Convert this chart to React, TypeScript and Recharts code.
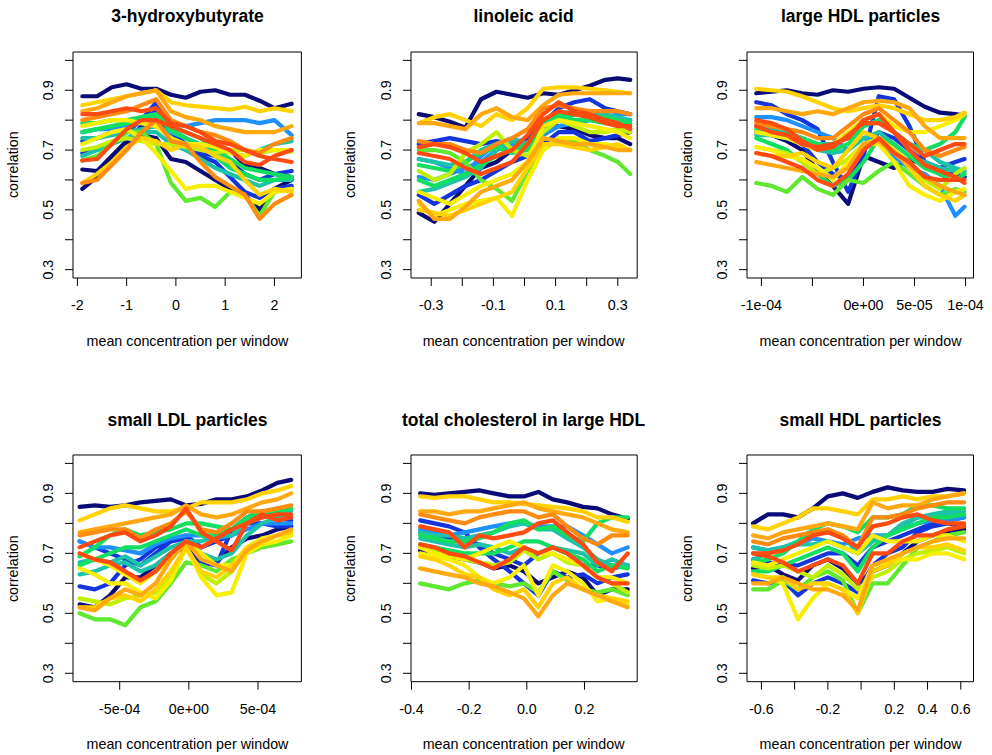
import React from 'react';
import { LineChart, Line, XAxis, YAxis, ReferenceArea } from 'recharts';

const C = {
  navy: '#0B0B78', blue: '#1535DC', dodger: '#1E90FF', teal: '#1DC3A8', spring: '#12DE62',
  lime: '#5EE830', gy: '#C0F000', yellow: '#F7EE00', gold: '#FFD200', orange: '#FFA810',
  dorange: '#FF8C10', ored: '#FF4A10',
};

const yTicks = [0.3, 0.4, 0.5, 0.6, 0.7, 0.8, 0.9, 1.0];
const yTickLabels = ['0.3', '', '0.5', '', '0.7', '', '0.9', ''];

// ---- Panel 1: 3-hydroxybutyrate
const hbX = [-1.9, -1.6, -1.3, -1.0, -0.7, -0.4, -0.1, 0.2, 0.5, 0.8, 1.1, 1.4, 1.7, 2.0, 2.35];
const hbTicks = [-2, -1, 0, 1, 2];
const hbTickLabels = ['-2', '-1', '0', '1', '2'];
const hbNavyA = [0.88, 0.88, 0.91, 0.92, 0.905, 0.905, 0.885, 0.875, 0.895, 0.9, 0.885, 0.885, 0.865, 0.84, 0.855];
const hbNavyB = [0.57, 0.61, 0.66, 0.72, 0.75, 0.74, 0.67, 0.66, 0.63, 0.6, 0.57, 0.55, 0.5, 0.57, 0.6];
const hbNavyC = [0.635, 0.63, 0.68, 0.73, 0.78, 0.8, 0.74, 0.72, 0.7, 0.69, 0.7, 0.65, 0.64, 0.62, 0.61];
const hbBlue = [0.69, 0.7, 0.72, 0.76, 0.8, 0.86, 0.77, 0.7, 0.68, 0.66, 0.61, 0.56, 0.54, 0.57, 0.58];
const hbBlueB = [0.73, 0.74, 0.76, 0.78, 0.8, 0.83, 0.76, 0.72, 0.69, 0.68, 0.66, 0.62, 0.6, 0.62, 0.63];
const hbDodger = [0.76, 0.77, 0.77, 0.78, 0.79, 0.8, 0.79, 0.78, 0.79, 0.8, 0.8, 0.8, 0.79, 0.8, 0.75];
const hbTeal = [0.74, 0.74, 0.75, 0.76, 0.77, 0.78, 0.76, 0.74, 0.72, 0.7, 0.69, 0.68, 0.7, 0.72, 0.73];
const hbTealB = [0.68, 0.7, 0.72, 0.74, 0.76, 0.76, 0.72, 0.7, 0.67, 0.64, 0.62, 0.6, 0.58, 0.6, 0.6];
const hbSpring = [0.79, 0.79, 0.8, 0.8, 0.81, 0.82, 0.78, 0.76, 0.74, 0.7, 0.67, 0.64, 0.63, 0.62, 0.61];
const hbSpringB = [0.76, 0.77, 0.78, 0.79, 0.8, 0.81, 0.77, 0.74, 0.71, 0.68, 0.64, 0.62, 0.6, 0.6, 0.61];
const hbLime = [0.665, 0.68, 0.72, 0.76, 0.76, 0.72, 0.59, 0.53, 0.54, 0.51, 0.56, 0.55, 0.48, 0.56, 0.57];
const hbGY = [0.7, 0.71, 0.73, 0.74, 0.73, 0.72, 0.72, 0.71, 0.7, 0.69, 0.7, 0.7, 0.69, 0.7, 0.695];
const hbYellow = [0.72, 0.74, 0.76, 0.77, 0.74, 0.69, 0.63, 0.57, 0.58, 0.58, 0.56, 0.54, 0.52, 0.56, 0.57];
const hbYellowB = [0.78, 0.79, 0.8, 0.8, 0.79, 0.78, 0.74, 0.72, 0.72, 0.71, 0.69, 0.68, 0.7, 0.7, 0.7];
const hbGoldA = [0.85, 0.86, 0.87, 0.88, 0.89, 0.9, 0.86, 0.85, 0.845, 0.84, 0.835, 0.845, 0.83, 0.84, 0.83];
const hbGoldB = [0.59, 0.62, 0.66, 0.71, 0.74, 0.73, 0.7, 0.72, 0.71, 0.68, 0.66, 0.6, 0.55, 0.57, 0.56];
const hbOrange = [0.83, 0.84, 0.86, 0.88, 0.89, 0.9, 0.83, 0.81, 0.8, 0.78, 0.77, 0.76, 0.76, 0.76, 0.78];
const hbDOrangeA = [0.8, 0.81, 0.82, 0.83, 0.85, 0.87, 0.8, 0.78, 0.76, 0.75, 0.73, 0.7, 0.69, 0.72, 0.74];
const hbDOrangeB = [0.59, 0.6, 0.65, 0.7, 0.76, 0.8, 0.73, 0.72, 0.66, 0.61, 0.58, 0.55, 0.47, 0.52, 0.55];
const hbRedA = [0.82, 0.82, 0.83, 0.84, 0.83, 0.84, 0.79, 0.78, 0.76, 0.73, 0.72, 0.7, 0.68, 0.67, 0.66];
const hbRedB = [0.665, 0.67, 0.72, 0.77, 0.8, 0.8, 0.78, 0.76, 0.74, 0.72, 0.7, 0.66, 0.65, 0.68, 0.7];

// ---- Panel 2: linoleic acid
const laX = [-0.34, -0.29, -0.24, -0.19, -0.14, -0.09, -0.04, 0.01, 0.06, 0.11, 0.16, 0.21, 0.26, 0.3, 0.34];
const laTicks = [-0.3, -0.2, -0.1, 0, 0.1, 0.2, 0.3];
const laTickLabels = ['-0.3', '', '-0.1', '', '0.1', '', '0.3'];
const laNavyA = [0.82, 0.81, 0.795, 0.775, 0.87, 0.895, 0.885, 0.875, 0.89, 0.885, 0.9, 0.915, 0.935, 0.94, 0.935];
const laNavyB = [0.49, 0.46, 0.52, 0.58, 0.64, 0.66, 0.7, 0.72, 0.78, 0.78, 0.77, 0.75, 0.74, 0.74, 0.72];
const laBlueA = [0.72, 0.73, 0.74, 0.73, 0.72, 0.73, 0.72, 0.74, 0.79, 0.84, 0.86, 0.87, 0.84, 0.83, 0.82];
const laBlueB = [0.55, 0.52, 0.55, 0.58, 0.6, 0.63, 0.66, 0.68, 0.72, 0.76, 0.76, 0.73, 0.74, 0.75, 0.76];
const laDodger = [0.61, 0.6, 0.62, 0.64, 0.66, 0.7, 0.72, 0.7, 0.75, 0.78, 0.79, 0.8, 0.8, 0.8, 0.8];
const laDodgerB = [0.67, 0.66, 0.64, 0.62, 0.68, 0.72, 0.7, 0.72, 0.76, 0.8, 0.82, 0.82, 0.81, 0.82, 0.82];
const laTeal = [0.56, 0.57, 0.59, 0.61, 0.64, 0.7, 0.73, 0.71, 0.78, 0.8, 0.82, 0.83, 0.82, 0.81, 0.8];
const laTealB = [0.67, 0.66, 0.65, 0.66, 0.7, 0.72, 0.74, 0.72, 0.79, 0.82, 0.83, 0.82, 0.81, 0.8, 0.8];
const laSpring = [0.65, 0.64, 0.63, 0.66, 0.69, 0.71, 0.69, 0.7, 0.78, 0.81, 0.82, 0.81, 0.81, 0.8, 0.79];
const laSpringB = [0.6, 0.58, 0.6, 0.62, 0.65, 0.68, 0.7, 0.72, 0.8, 0.82, 0.8, 0.8, 0.79, 0.79, 0.78];
const laLime = [0.7, 0.7, 0.69, 0.66, 0.6, 0.57, 0.53, 0.63, 0.7, 0.74, 0.73, 0.7, 0.68, 0.66, 0.62];
const laGY = [0.63, 0.6, 0.62, 0.69, 0.72, 0.76, 0.7, 0.68, 0.76, 0.8, 0.78, 0.76, 0.76, 0.77, 0.76];
const laYellow = [0.52, 0.48, 0.5, 0.52, 0.53, 0.54, 0.48, 0.6, 0.7, 0.74, 0.74, 0.72, 0.72, 0.71, 0.7];
const laYellowB = [0.56, 0.54, 0.52, 0.55, 0.58, 0.6, 0.62, 0.66, 0.78, 0.8, 0.79, 0.78, 0.77, 0.76, 0.74];
const laGoldA = [0.79, 0.81, 0.82, 0.8, 0.78, 0.82, 0.8, 0.84, 0.905, 0.91, 0.91, 0.905, 0.9, 0.895, 0.89];
const laGoldB = [0.5, 0.49, 0.48, 0.5, 0.52, 0.54, 0.56, 0.64, 0.72, 0.72, 0.71, 0.7, 0.71, 0.72, 0.7];
const laOrangeA = [0.79, 0.79, 0.78, 0.77, 0.82, 0.84, 0.81, 0.8, 0.85, 0.885, 0.89, 0.89, 0.89, 0.89, 0.89];
const laOrangeB = [0.53, 0.47, 0.47, 0.51, 0.56, 0.58, 0.6, 0.66, 0.74, 0.73, 0.72, 0.72, 0.71, 0.7, 0.7];
const laDOrange = [0.73, 0.72, 0.72, 0.7, 0.69, 0.72, 0.74, 0.77, 0.84, 0.85, 0.84, 0.83, 0.83, 0.83, 0.82];
const laRedA = [0.71, 0.72, 0.71, 0.69, 0.66, 0.68, 0.7, 0.75, 0.82, 0.86, 0.83, 0.82, 0.8, 0.79, 0.77];
const laRedB = [0.69, 0.68, 0.67, 0.64, 0.62, 0.64, 0.66, 0.72, 0.8, 0.83, 0.82, 0.81, 0.79, 0.78, 0.78];

// ---- Panel 3: large HDL particles
const lhX = [-1.05e-4, -9e-5, -7.5e-5, -6e-5, -4.5e-5, -3e-5, -1.5e-5, 0, 1.5e-5, 3e-5, 4.5e-5, 6e-5, 7.5e-5, 9e-5, 9.9e-5];
const lhTicks = [-1e-4, -5e-5, 0, 5e-5, 1e-4];
const lhTickLabels = ['-1e-04', '', '0e+00', '5e-05', '1e-04'];
const lhNavyA = [0.89, 0.895, 0.9, 0.89, 0.885, 0.9, 0.895, 0.905, 0.91, 0.905, 0.875, 0.845, 0.825, 0.82, 0.815];
const lhNavyB = [0.76, 0.75, 0.73, 0.7, 0.63, 0.58, 0.52, 0.68, 0.66, 0.64, 0.67, 0.65, 0.62, 0.6, 0.61];
const lhBlue = [0.86, 0.85, 0.82, 0.8, 0.77, 0.66, 0.56, 0.68, 0.88, 0.87, 0.78, 0.66, 0.62, 0.62, 0.61];
const lhBlueB = [0.78, 0.77, 0.75, 0.72, 0.66, 0.62, 0.6, 0.7, 0.76, 0.74, 0.7, 0.66, 0.64, 0.66, 0.67];
const lhDodger = [0.81, 0.81, 0.8, 0.78, 0.76, 0.74, 0.7, 0.74, 0.72, 0.68, 0.64, 0.62, 0.58, 0.48, 0.51];
const lhTeal = [0.75, 0.75, 0.74, 0.72, 0.7, 0.69, 0.7, 0.74, 0.76, 0.72, 0.68, 0.66, 0.64, 0.63, 0.63];
const lhTealB = [0.78, 0.77, 0.76, 0.74, 0.72, 0.72, 0.74, 0.78, 0.8, 0.76, 0.72, 0.7, 0.66, 0.64, 0.63];
const lhSpring = [0.77, 0.76, 0.75, 0.74, 0.72, 0.7, 0.72, 0.78, 0.8, 0.76, 0.72, 0.7, 0.72, 0.76, 0.81];
const lhSpringB = [0.74, 0.72, 0.7, 0.66, 0.62, 0.58, 0.6, 0.66, 0.74, 0.72, 0.68, 0.64, 0.62, 0.6, 0.62];
const lhLime = [0.59, 0.58, 0.56, 0.61, 0.57, 0.55, 0.6, 0.59, 0.63, 0.66, 0.62, 0.58, 0.55, 0.57, 0.56];
const lhGY = [0.71, 0.7, 0.69, 0.66, 0.62, 0.64, 0.67, 0.72, 0.74, 0.7, 0.66, 0.6, 0.57, 0.62, 0.64];
const lhYellow = [0.71, 0.7, 0.68, 0.67, 0.64, 0.6, 0.66, 0.72, 0.72, 0.66, 0.58, 0.55, 0.53, 0.56, 0.57];
const lhYellowB = [0.76, 0.75, 0.74, 0.72, 0.7, 0.72, 0.76, 0.8, 0.82, 0.78, 0.76, 0.76, 0.78, 0.8, 0.82];
const lhGoldA = [0.905, 0.9, 0.895, 0.88, 0.86, 0.84, 0.83, 0.84, 0.85, 0.84, 0.82, 0.8, 0.8, 0.81, 0.825];
const lhGoldB = [0.69, 0.68, 0.68, 0.69, 0.66, 0.64, 0.7, 0.76, 0.74, 0.7, 0.64, 0.58, 0.55, 0.53, 0.55];
const lhOrangeA = [0.84, 0.84, 0.83, 0.82, 0.83, 0.82, 0.84, 0.86, 0.865, 0.86, 0.84, 0.78, 0.74, 0.74, 0.74];
const lhOrangeB = [0.66, 0.65, 0.64, 0.63, 0.62, 0.61, 0.64, 0.72, 0.73, 0.69, 0.65, 0.61, 0.58, 0.56, 0.55];
const lhDOrange = [0.79, 0.78, 0.77, 0.76, 0.74, 0.74, 0.78, 0.82, 0.84, 0.8, 0.76, 0.7, 0.68, 0.7, 0.71];
const lhRedA = [0.8, 0.79, 0.77, 0.73, 0.7, 0.71, 0.75, 0.79, 0.79, 0.76, 0.7, 0.65, 0.63, 0.61, 0.59];
const lhRedB = [0.78, 0.76, 0.75, 0.72, 0.71, 0.72, 0.74, 0.8, 0.82, 0.76, 0.72, 0.68, 0.7, 0.72, 0.72];
const lhRedC = [0.69, 0.68, 0.66, 0.64, 0.6, 0.58, 0.62, 0.7, 0.74, 0.69, 0.66, 0.61, 0.6, 0.6, 0.6];

// ---- Panel 4: small LDL particles
const slX = [-7.9e-4, -6.8e-4, -5.7e-4, -4.6e-4, -3.5e-4, -2.4e-4, -1.3e-4, -2e-5, 9e-5, 2e-4, 3.1e-4, 4.2e-4, 5.3e-4, 6.4e-4, 7.4e-4];
const slTicks = [-5e-4, 0, 5e-4];
const slTickLabels = ['-5e-04', '0e+00', '5e-04'];
const slNavyA = [0.855, 0.86, 0.855, 0.86, 0.87, 0.875, 0.88, 0.86, 0.865, 0.88, 0.88, 0.89, 0.91, 0.935, 0.945];
const slNavyB = [0.53, 0.52, 0.56, 0.62, 0.62, 0.66, 0.7, 0.72, 0.67, 0.67, 0.72, 0.75, 0.76, 0.78, 0.79];
const slBlue = [0.59, 0.58, 0.6, 0.66, 0.68, 0.72, 0.74, 0.75, 0.67, 0.66, 0.78, 0.82, 0.84, 0.82, 0.81];
const slBlueB = [0.74, 0.72, 0.7, 0.68, 0.66, 0.7, 0.74, 0.76, 0.72, 0.74, 0.76, 0.8, 0.8, 0.79, 0.79];
const slDodger = [0.74, 0.72, 0.72, 0.71, 0.7, 0.73, 0.75, 0.76, 0.76, 0.75, 0.76, 0.78, 0.8, 0.8, 0.8];
const slTeal = [0.67, 0.68, 0.67, 0.69, 0.66, 0.69, 0.72, 0.74, 0.74, 0.76, 0.76, 0.8, 0.82, 0.83, 0.84];
const slTealB = [0.63, 0.64, 0.66, 0.67, 0.64, 0.66, 0.7, 0.74, 0.7, 0.68, 0.7, 0.76, 0.8, 0.82, 0.82];
const slSpring = [0.69, 0.72, 0.76, 0.78, 0.76, 0.77, 0.78, 0.8, 0.8, 0.79, 0.78, 0.81, 0.83, 0.85, 0.85];
const slSpringB = [0.66, 0.68, 0.7, 0.72, 0.72, 0.74, 0.76, 0.78, 0.76, 0.76, 0.78, 0.82, 0.84, 0.84, 0.85];
const slLime = [0.5, 0.48, 0.48, 0.46, 0.52, 0.54, 0.6, 0.67, 0.66, 0.64, 0.68, 0.7, 0.72, 0.73, 0.74];
const slGY = [0.55, 0.54, 0.53, 0.55, 0.56, 0.57, 0.62, 0.72, 0.63, 0.6, 0.64, 0.72, 0.74, 0.76, 0.76];
const slYellow = [0.65, 0.63, 0.6, 0.6, 0.57, 0.55, 0.61, 0.72, 0.62, 0.56, 0.57, 0.7, 0.73, 0.74, 0.76];
const slYellowB = [0.7, 0.68, 0.66, 0.63, 0.6, 0.64, 0.68, 0.74, 0.7, 0.66, 0.66, 0.72, 0.75, 0.76, 0.77];
const slGoldA = [0.81, 0.83, 0.85, 0.86, 0.85, 0.84, 0.84, 0.85, 0.87, 0.87, 0.87, 0.88, 0.9, 0.91, 0.925];
const slGoldB = [0.52, 0.52, 0.55, 0.56, 0.54, 0.58, 0.64, 0.72, 0.64, 0.62, 0.66, 0.72, 0.74, 0.76, 0.77];
const slOrangeA = [0.77, 0.78, 0.79, 0.8, 0.81, 0.82, 0.83, 0.86, 0.83, 0.82, 0.83, 0.85, 0.87, 0.88, 0.9];
const slOrangeB = [0.52, 0.51, 0.55, 0.58, 0.56, 0.6, 0.68, 0.74, 0.68, 0.66, 0.64, 0.71, 0.74, 0.76, 0.78];
const slDOrange = [0.76, 0.77, 0.78, 0.78, 0.75, 0.78, 0.8, 0.84, 0.78, 0.77, 0.8, 0.84, 0.84, 0.85, 0.86];
const slRedA = [0.72, 0.74, 0.76, 0.77, 0.74, 0.76, 0.79, 0.85, 0.77, 0.74, 0.71, 0.8, 0.83, 0.81, 0.82];
const slRedB = [0.7, 0.68, 0.67, 0.64, 0.61, 0.64, 0.7, 0.74, 0.72, 0.75, 0.78, 0.8, 0.82, 0.83, 0.83];

// ---- Panel 5: total cholesterol in large HDL
const tcX = [-0.37, -0.32, -0.27, -0.215, -0.165, -0.115, -0.06, -0.01, 0.04, 0.09, 0.14, 0.195, 0.245, 0.295, 0.35];
const tcTicks = [-0.4, -0.2, 0, 0.2];
const tcTickLabels = ['-0.4', '-0.2', '0.0', '0.2'];
const tcNavyA = [0.9, 0.895, 0.9, 0.905, 0.91, 0.9, 0.89, 0.89, 0.905, 0.88, 0.87, 0.855, 0.85, 0.83, 0.815];
const tcNavyB = [0.71, 0.7, 0.69, 0.68, 0.67, 0.65, 0.66, 0.64, 0.6, 0.62, 0.64, 0.62, 0.56, 0.58, 0.58];
const tcBlue = [0.81, 0.8, 0.79, 0.77, 0.72, 0.68, 0.64, 0.6, 0.56, 0.64, 0.62, 0.63, 0.6, 0.62, 0.63];
const tcBlueB = [0.77, 0.76, 0.75, 0.74, 0.73, 0.7, 0.68, 0.66, 0.7, 0.72, 0.7, 0.66, 0.66, 0.65, 0.66];
const tcDodger = [0.78, 0.77, 0.76, 0.77, 0.78, 0.79, 0.8, 0.8, 0.79, 0.79, 0.79, 0.76, 0.73, 0.7, 0.72];
const tcTeal = [0.75, 0.74, 0.73, 0.72, 0.73, 0.72, 0.7, 0.72, 0.7, 0.72, 0.71, 0.7, 0.66, 0.68, 0.66];
const tcTealB = [0.77, 0.76, 0.76, 0.75, 0.76, 0.77, 0.79, 0.8, 0.78, 0.78, 0.75, 0.72, 0.68, 0.66, 0.66];
const tcSpring = [0.76, 0.75, 0.74, 0.74, 0.75, 0.77, 0.8, 0.81, 0.78, 0.79, 0.76, 0.74, 0.8, 0.82, 0.82];
const tcSpringB = [0.73, 0.72, 0.71, 0.7, 0.7, 0.7, 0.72, 0.74, 0.74, 0.72, 0.7, 0.68, 0.64, 0.66, 0.65];
const tcLime = [0.6, 0.59, 0.58, 0.6, 0.61, 0.6, 0.59, 0.6, 0.57, 0.64, 0.61, 0.58, 0.57, 0.58, 0.56];
const tcGY = [0.72, 0.71, 0.7, 0.68, 0.67, 0.66, 0.67, 0.71, 0.68, 0.7, 0.67, 0.66, 0.62, 0.6, 0.57];
const tcYellow = [0.7, 0.69, 0.68, 0.66, 0.62, 0.6, 0.62, 0.66, 0.56, 0.66, 0.64, 0.6, 0.54, 0.55, 0.53];
const tcYellowB = [0.72, 0.7, 0.69, 0.68, 0.7, 0.72, 0.74, 0.72, 0.7, 0.7, 0.68, 0.66, 0.62, 0.62, 0.6];
const tcGoldA = [0.89, 0.885, 0.89, 0.89, 0.88, 0.87, 0.87, 0.865, 0.86, 0.855, 0.85, 0.84, 0.82, 0.82, 0.805];
const tcGoldB = [0.69, 0.68, 0.66, 0.63, 0.62, 0.58, 0.56, 0.58, 0.52, 0.6, 0.62, 0.58, 0.56, 0.55, 0.54];
const tcOrangeA = [0.84, 0.84, 0.83, 0.84, 0.84, 0.85, 0.86, 0.87, 0.85, 0.84, 0.83, 0.82, 0.8, 0.78, 0.77];
const tcOrangeB = [0.65, 0.64, 0.63, 0.62, 0.6, 0.59, 0.57, 0.55, 0.49, 0.56, 0.6, 0.58, 0.56, 0.54, 0.52];
const tcDOrange = [0.83, 0.82, 0.81, 0.8, 0.82, 0.83, 0.84, 0.84, 0.82, 0.83, 0.79, 0.75, 0.73, 0.76, 0.76];
const tcRedA = [0.79, 0.78, 0.77, 0.72, 0.76, 0.75, 0.76, 0.77, 0.8, 0.81, 0.77, 0.73, 0.67, 0.64, 0.7];
const tcRedB = [0.73, 0.72, 0.7, 0.69, 0.67, 0.65, 0.68, 0.72, 0.7, 0.72, 0.7, 0.66, 0.62, 0.6, 0.6];

// ---- Panel 6: small HDL particles
const shX = [-0.65, -0.56, -0.47, -0.38, -0.29, -0.2, -0.11, -0.02, 0.07, 0.16, 0.25, 0.34, 0.43, 0.52, 0.62];
const shTicks = [-0.6, -0.4, -0.2, 0, 0.2, 0.4, 0.6];
const shTickLabels = ['-0.6', '', '-0.2', '', '0.2', '0.4', '0.6'];
const shNavyA = [0.8, 0.83, 0.83, 0.82, 0.85, 0.89, 0.9, 0.885, 0.905, 0.92, 0.91, 0.905, 0.905, 0.915, 0.91];
const shNavyB = [0.65, 0.66, 0.63, 0.61, 0.66, 0.68, 0.65, 0.6, 0.64, 0.66, 0.7, 0.74, 0.76, 0.77, 0.78];
const shBlue = [0.61, 0.6, 0.61, 0.56, 0.6, 0.62, 0.6, 0.57, 0.66, 0.7, 0.72, 0.77, 0.79, 0.8, 0.79];
const shBlueB = [0.68, 0.67, 0.66, 0.66, 0.68, 0.7, 0.7, 0.66, 0.72, 0.74, 0.76, 0.78, 0.8, 0.81, 0.82];
const shDodger = [0.72, 0.71, 0.72, 0.73, 0.75, 0.74, 0.73, 0.75, 0.76, 0.76, 0.78, 0.8, 0.81, 0.81, 0.82];
const shTeal = [0.72, 0.71, 0.72, 0.73, 0.73, 0.74, 0.72, 0.7, 0.75, 0.76, 0.79, 0.82, 0.83, 0.84, 0.84];
const shTealB = [0.68, 0.7, 0.72, 0.74, 0.76, 0.78, 0.76, 0.7, 0.74, 0.76, 0.8, 0.82, 0.82, 0.83, 0.83];
const shSpring = [0.67, 0.68, 0.7, 0.74, 0.78, 0.8, 0.79, 0.77, 0.82, 0.82, 0.83, 0.86, 0.86, 0.85, 0.85];
const shSpringB = [0.64, 0.64, 0.66, 0.68, 0.7, 0.72, 0.7, 0.64, 0.72, 0.76, 0.78, 0.8, 0.82, 0.82, 0.83];
const shLime = [0.58, 0.58, 0.61, 0.58, 0.62, 0.64, 0.61, 0.5, 0.6, 0.6, 0.66, 0.72, 0.74, 0.76, 0.77];
const shGY = [0.66, 0.65, 0.66, 0.64, 0.62, 0.66, 0.63, 0.58, 0.62, 0.64, 0.68, 0.7, 0.71, 0.72, 0.7];
const shYellow = [0.63, 0.62, 0.6, 0.48, 0.55, 0.6, 0.58, 0.55, 0.66, 0.67, 0.68, 0.68, 0.7, 0.7, 0.68];
const shYellowB = [0.67, 0.66, 0.68, 0.7, 0.72, 0.74, 0.72, 0.7, 0.76, 0.74, 0.74, 0.74, 0.76, 0.76, 0.74];
const shGoldA = [0.79, 0.78, 0.8, 0.82, 0.85, 0.85, 0.84, 0.83, 0.88, 0.88, 0.89, 0.88, 0.89, 0.89, 0.9];
const shGoldB = [0.63, 0.62, 0.62, 0.58, 0.6, 0.6, 0.58, 0.5, 0.64, 0.66, 0.7, 0.72, 0.72, 0.73, 0.71];
const shOrangeA = [0.76, 0.75, 0.77, 0.78, 0.79, 0.8, 0.79, 0.78, 0.87, 0.85, 0.86, 0.86, 0.88, 0.89, 0.9];
const shOrangeB = [0.6, 0.6, 0.62, 0.6, 0.58, 0.58, 0.56, 0.51, 0.66, 0.68, 0.7, 0.72, 0.74, 0.75, 0.75];
const shDOrange = [0.74, 0.73, 0.75, 0.76, 0.77, 0.78, 0.76, 0.72, 0.82, 0.82, 0.83, 0.85, 0.86, 0.87, 0.87];
const shRedA = [0.7, 0.7, 0.71, 0.73, 0.76, 0.77, 0.75, 0.72, 0.79, 0.8, 0.82, 0.83, 0.81, 0.8, 0.8];
const shRedB = [0.7, 0.69, 0.67, 0.64, 0.66, 0.68, 0.66, 0.6, 0.7, 0.7, 0.74, 0.76, 0.76, 0.78, 0.79];

type Series = [string, number[]];
type PanelDef = {
  title: string; x: number[]; ticks: number[]; tickLabels: string[];
  domain: [number, number]; box: [number, number, number, number]; series: Series[];
};

const panels: PanelDef[] = [
  {
    title: '3-hydroxybutyrate', x: hbX, ticks: hbTicks, tickLabels: hbTickLabels,
    domain: [-2.089, 2.548], box: [73.3, 301.7, 51.7, 277.7],
    series: [[C.navy, hbNavyA], [C.navy, hbNavyB], [C.navy, hbNavyC], [C.blue, hbBlue], [C.blue, hbBlueB],
      [C.dodger, hbDodger], [C.teal, hbTeal], [C.teal, hbTealB], [C.spring, hbSpring], [C.spring, hbSpringB],
      [C.lime, hbLime], [C.gy, hbGY], [C.yellow, hbYellow], [C.yellow, hbYellowB],
      [C.gold, hbGoldB], [C.gold, hbGoldA], [C.orange, hbOrange], [C.dorange, hbDOrangeB], [C.dorange, hbDOrangeA],
      [C.ored, hbRedB], [C.ored, hbRedA]],
  },
  {
    title: 'linoleic acid', x: laX, ticks: laTicks, tickLabels: laTickLabels,
    domain: [-0.365, 0.3624], box: [410.5, 636.7, 51.7, 277.7],
    series: [[C.navy, laNavyA], [C.navy, laNavyB], [C.blue, laBlueA], [C.blue, laBlueB], [C.dodger, laDodger],
      [C.dodger, laDodgerB], [C.teal, laTeal], [C.teal, laTealB], [C.spring, laSpring], [C.spring, laSpringB],
      [C.lime, laLime], [C.gy, laGY], [C.yellow, laYellow], [C.yellow, laYellowB],
      [C.gold, laGoldB], [C.gold, laGoldA], [C.orange, laOrangeB], [C.orange, laOrangeA], [C.dorange, laDOrange],
      [C.ored, laRedB], [C.ored, laRedA]],
  },
  {
    title: 'large HDL particles', x: lhX, ticks: lhTicks, tickLabels: lhTickLabels,
    domain: [-1.141e-4, 1.078e-4], box: [747.3, 973.8, 51.7, 277.7],
    series: [[C.navy, lhNavyA], [C.navy, lhNavyB], [C.blue, lhBlue], [C.blue, lhBlueB], [C.dodger, lhDodger],
      [C.teal, lhTeal], [C.teal, lhTealB], [C.spring, lhSpring], [C.spring, lhSpringB], [C.lime, lhLime],
      [C.gy, lhGY], [C.yellow, lhYellow], [C.yellow, lhYellowB],
      [C.gold, lhGoldB], [C.gold, lhGoldA], [C.orange, lhOrangeB], [C.orange, lhOrangeA], [C.dorange, lhDOrange],
      [C.ored, lhRedC], [C.ored, lhRedB], [C.ored, lhRedA]],
  },
  {
    title: 'small LDL particles', x: slX, ticks: slTicks, tickLabels: slTickLabels,
    domain: [-8.377e-4, 8.138e-4], box: [73.3, 301.7, 455.3, 682],
    series: [[C.navy, slNavyA], [C.navy, slNavyB], [C.blue, slBlue], [C.blue, slBlueB], [C.dodger, slDodger],
      [C.teal, slTeal], [C.teal, slTealB], [C.spring, slSpring], [C.spring, slSpringB], [C.lime, slLime],
      [C.gy, slGY], [C.yellow, slYellow], [C.yellow, slYellowB],
      [C.gold, slGoldB], [C.gold, slGoldA], [C.orange, slOrangeB], [C.orange, slOrangeA], [C.dorange, slDOrange],
      [C.ored, slRedB], [C.ored, slRedA]],
  },
  {
    title: 'total cholesterol in large HDL', x: tcX, ticks: tcTicks, tickLabels: tcTickLabels,
    domain: [-0.4017, 0.3828], box: [410.5, 636.7, 455.3, 682],
    series: [[C.navy, tcNavyA], [C.navy, tcNavyB], [C.blue, tcBlue], [C.blue, tcBlueB], [C.dodger, tcDodger],
      [C.teal, tcTeal], [C.teal, tcTealB], [C.spring, tcSpring], [C.spring, tcSpringB], [C.lime, tcLime],
      [C.gy, tcGY], [C.yellow, tcYellow], [C.yellow, tcYellowB],
      [C.gold, tcGoldB], [C.gold, tcGoldA], [C.orange, tcOrangeB], [C.orange, tcOrangeA], [C.dorange, tcDOrange],
      [C.ored, tcRedB], [C.ored, tcRedA]],
  },
  {
    title: 'small HDL particles', x: shX, ticks: shTicks, tickLabels: shTickLabels,
    domain: [-0.6867, 0.6765], box: [747.3, 973.8, 455.3, 682],
    series: [[C.navy, shNavyA], [C.navy, shNavyB], [C.blue, shBlue], [C.blue, shBlueB], [C.dodger, shDodger],
      [C.teal, shTeal], [C.teal, shTealB], [C.spring, shSpring], [C.spring, shSpringB], [C.lime, shLime],
      [C.gy, shGY], [C.yellow, shYellow], [C.yellow, shYellowB],
      [C.gold, shGoldB], [C.gold, shGoldA], [C.orange, shOrangeB], [C.orange, shOrangeA], [C.dorange, shDOrange],
      [C.ored, shRedB], [C.ored, shRedA]],
  },
];

const FONT = '"Liberation Sans", Arial, Helvetica, sans-serif';
const Y_DOMAIN: [number, number] = [0.272, 1.028];
const ML = 20, MT = 20, MR = 20, MB = 30, YW = 40, XH = 40, TS = 8;
const AX_FS = 14.3;

function labelFor(ticks: number[], labels: string[], v: number) {
  const i = ticks.findIndex((t) => Math.abs(t - v) < Math.abs(ticks[ticks.length - 1] - ticks[0]) * 1e-6 + 1e-15);
  return i >= 0 ? labels[i] : '';
}

function Panel({ p }: { p: PanelDef }) {
  const [bl, br, bt, bb] = p.box;
  const bw = br - bl, bh = bb - bt;
  const rows = p.x.map((xv, i) => {
    const r: Record<string, number> = { x: xv };
    p.series.forEach((s, j) => { r['s' + j] = s[1][i]; });
    return r;
  });
  return (
    <div style={{ position: 'absolute', left: bl - ML - YW, top: bt - MT }}>
      <LineChart width={bw + ML + YW + MR} height={bh + MT + MB + XH} data={rows}
        margin={{ top: MT, left: ML, right: MR, bottom: MB }}>
        <XAxis type="number" dataKey="x" domain={p.domain} ticks={p.ticks} interval={0} allowDataOverflow
          height={XH} axisLine={false} tickLine={{ stroke: '#000', strokeWidth: 1 }} tickSize={TS} tickMargin={0}
          tick={(props: any) => (
            <text x={props.x} y={props.y + 24.3} textAnchor="middle" fontSize={AX_FS} fontFamily={FONT} fill="#000">
              {labelFor(p.ticks, p.tickLabels, props.payload.value)}
            </text>
          )} />
        <YAxis type="number" domain={Y_DOMAIN} ticks={yTicks} interval={0} allowDataOverflow
          width={YW} axisLine={false} tickLine={{ stroke: '#000', strokeWidth: 1 }} tickSize={TS} tickMargin={0}
          tick={(props: any) => {
            const bx = props.x - 12.3;
            return (
              <text x={bx} y={props.y} transform={`rotate(-90 ${bx} ${props.y})`} textAnchor="middle"
                fontSize={AX_FS} fontFamily={FONT} fill="#000">
                {labelFor(yTicks, yTickLabels, props.payload.value)}
              </text>
            );
          }} />
        {p.series.map((s, j) => (
          <Line key={j} dataKey={'s' + j} stroke={s[0]} strokeWidth={4.2} dot={false} type="linear"
            strokeLinejoin="round" strokeLinecap="round" isAnimationActive={false} />
        ))}
        <ReferenceArea x1={p.domain[0]} x2={p.domain[1]} y1={Y_DOMAIN[0]} y2={Y_DOMAIN[1]}
          fill="none" fillOpacity={0} stroke="#000" strokeWidth={1} ifOverflow="visible" />
      </LineChart>
    </div>
  );
}

export default function App() {
  return (
    <div style={{ position: 'absolute', left: 0, top: 0, width: 992, height: 755, background: '#fff', overflow: 'hidden' }}>
      {panels.map((p, i) => <Panel key={i} p={p} />)}
      <svg width={992} height={755} style={{ position: 'absolute', left: 0, top: 0, pointerEvents: 'none' }}>
        {panels.map((p, i) => {
          const [bl, br, bt, bb] = p.box;
          const cx = (bl + br) / 2, cy = (bt + bb) / 2;
          const row = i < 3 ? 0 : 1;
          const titleY = row === 0 ? 22.3 : 426.2;
          const xlabY = row === 0 ? 345.5 : 749;
          const ylx = bl - 55.3;
          return (
            <g key={i}>
              <text x={cx} y={titleY} textAnchor="middle" fontSize={17.5} fontWeight="bold" fontFamily={FONT} fill="#000">{p.title}</text>
              <text x={cx} y={xlabY} textAnchor="middle" fontSize={AX_FS} fontFamily={FONT} fill="#000">mean concentration per window</text>
              <text x={ylx} y={cy} transform={`rotate(-90 ${ylx} ${cy})`} textAnchor="middle" fontSize={AX_FS} fontFamily={FONT} fill="#000">correlation</text>
            </g>
          );
        })}
      </svg>
    </div>
  );
}
